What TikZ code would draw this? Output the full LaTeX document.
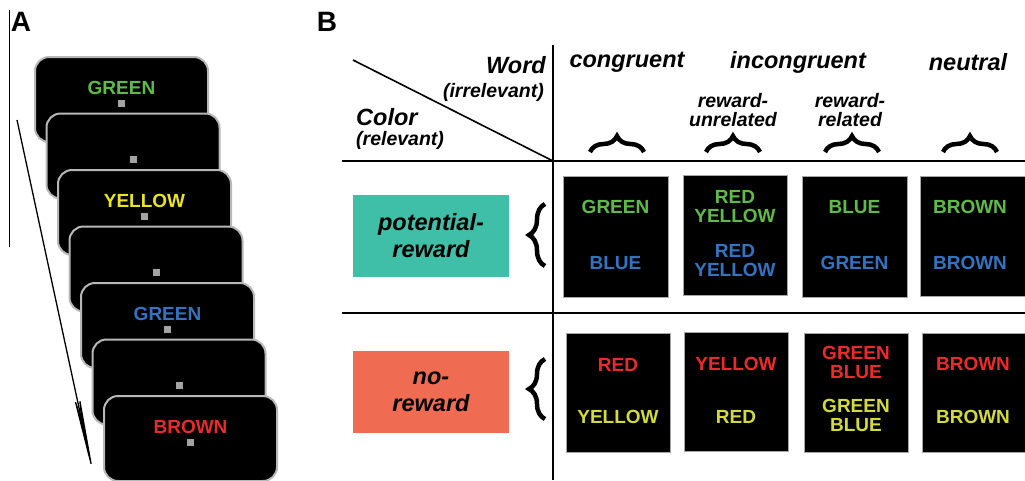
\documentclass[tikz,border=0pt]{standalone}
\usepackage{fontspec}
\setmainfont{Liberation Sans}
\usetikzlibrary{arrows.meta,decorations.pathreplacing}
\definecolor{wgreen}{HTML}{5DBB46}
\definecolor{wblue}{HTML}{3274C2}
\definecolor{wred}{HTML}{EC2A2A}
\definecolor{wyellowA}{HTML}{EDE31E}
\definecolor{wyellow}{HTML}{D3DA3A}
\definecolor{teal}{HTML}{3FBFA7}
\definecolor{salmon}{HTML}{EF6B52}
\definecolor{rim}{HTML}{B8B8B8}
\definecolor{fixgray}{HTML}{A3A3A3}
\begin{document}
\begin{tikzpicture}[x=1pt,y=-1pt,
  panel/.style={font=\bfseries\fontsize{28}{28}\selectfont, inner sep=0},
  card/.style={fill=black, draw=rim, line width=2, rounded corners=14,
               minimum width=173, minimum height=85, inner sep=0},
  stim/.style={font=\bfseries\fontsize{19}{19}\selectfont, inner sep=0, align=center},
  fix/.style={fill=fixgray, minimum size=7, inner sep=0},
  hdr/.style={font=\bfseries\itshape\fontsize{23.5}{24}\selectfont, inner sep=0},
  sub/.style={font=\bfseries\itshape\fontsize{19.5}{19.5}\selectfont, inner sep=0, align=center},
  lab/.style={font=\bfseries\itshape\fontsize{23.5}{27}\selectfont, align=center,
              minimum width=156, minimum height=82, inner sep=0},
  blk/.style={fill=black, draw=gray!70, line width=0.6, inner sep=0},
  rule/.style={line width=2},
  hbrace/.style={decorate, decoration={brace, amplitude=16}, line width=4.5},
  vbrace/.style={decorate, decoration={brace, amplitude=16}, line width=4.5}
]
\clip (0,0) rectangle (1025,480);

% ---------- panel A: trial sequence ----------
\node[panel] (la) at (21,22) {A};
\coordinate (va) at (9,10);
\coordinate (vb) at (9,247);
\draw[line width=1] (va) -- (vb);

\coordinate (ts) at (17,120);
\coordinate (te) at (95,482);
\draw[line width=1.3, -{Stealth[length=100, width=7]}] (ts) -- (te);

% cards, stacked from back to front
\foreach \i/\word/\col in {1/GREEN/wgreen, 2//black, 3/YELLOW/wyellowA, 4//black,
                           5/GREEN/wblue, 6//black, 7/BROWN/wred}{
  \pgfmathsetmacro{\cx}{35+11.5*(\i-1)+86.5}
  \pgfmathsetmacro{\ty}{57+56.5*(\i-1)}
  \node[card] (card\i) at (\cx,\ty+42.5) {};
  \node[stim, text=\col] (word\i) at (\cx,\ty+31) {\word};
  \node[fix] (fix\i) at (\cx,\ty+46) {};
}

% ---------- panel B: design table ----------
\node[panel] (lb) at (327,22) {B};

\coordinate (vt) at (553,45);
\coordinate (vbot) at (553,480);
\coordinate (h1l) at (342,161);
\coordinate (h1r) at (1025,161);
\coordinate (h2l) at (342,313);
\coordinate (h2r) at (1025,313);
\coordinate (dg) at (353,60);
\coordinate (dc) at (553,161);
\draw[rule] (vt) -- (vbot);
\draw[rule] (h1l) -- (h1r);
\draw[rule] (h2l) -- (h2r);
\draw[line width=1.6] (dg) -- (dc);

\node[hdr, anchor=east] (word) at (546,65) {Word};
\node[sub, anchor=east] (irr) at (544,92) {(irrelevant)};
\node[hdr, anchor=west] (color) at (356,117) {Color};
\node[sub, anchor=west] (rel) at (356,140) {(relevant)};

\node[hdr] (cong) at (627,62) {congruent};
\node[hdr] (incong) at (798,62) {incongruent};
\node[hdr] (neut) at (968,62) {neutral};
\node[sub] (unrel) at (733,110) {reward-\\unrelated};
\node[sub] (relat) at (850,110) {reward-\\related};

% column braces
\foreach \n/\x in {bc/617, bu/733, br/852, bn/970}{
  \coordinate (\n a) at (\x-27,152);
  \coordinate (\n b) at (\x+27,152);
  \draw[hbrace] (\n a) -- (\n b);
}

% row labels
\node[lab, fill=teal] (pot) at (431,236) {potential-\\reward};
\node[lab, fill=salmon] (nor) at (431,392) {no-\\reward};

\coordinate (r1a) at (545,266);
\coordinate (r1b) at (545,204);
\coordinate (r2a) at (545,419);
\coordinate (r2b) at (545,359);
\draw[vbrace] (r1a) -- (r1b);
\draw[vbrace] (r2a) -- (r2b);

% stimulus boxes, potential-reward row (green / blue ink)
\node[blk, minimum width=105, minimum height=121] (p1) at (615.5,236.5) {};
\node[blk, minimum width=104, minimum height=120] (p2) at (735,235) {};
\node[blk, minimum width=105, minimum height=121] (p3) at (854.5,236.5) {};
\node[blk, minimum width=106, minimum height=120] (p4) at (973,236) {};

\node[stim, text=wgreen] (p1a) at (615.5,207) {GREEN};
\node[stim, text=wblue]  (p1b) at (615.5,263) {BLUE};
\node[stim, text=wgreen] (p2a) at (735,206.5) {RED\\YELLOW};
\node[stim, text=wblue]  (p2b) at (735,260.5) {RED\\YELLOW};
\node[stim, text=wgreen] (p3a) at (854.5,207) {BLUE};
\node[stim, text=wblue]  (p3b) at (854.5,263) {GREEN};
\node[stim, text=wgreen] (p4a) at (970,207) {BROWN};
\node[stim, text=wblue]  (p4b) at (970,263) {BROWN};

% stimulus boxes, no-reward row (red / yellow ink)
\node[blk, minimum width=104, minimum height=119] (n1) at (618,392.5) {};
\node[blk, minimum width=104, minimum height=119] (n2) at (736,391.5) {};
\node[blk, minimum width=104, minimum height=119] (n3) at (856,392.5) {};
\node[blk, minimum width=106, minimum height=119] (n4) at (975,392.5) {};

\node[stim, text=wred]    (n1a) at (618,365) {RED};
\node[stim, text=wyellow] (n1b) at (618,417) {YELLOW};
\node[stim, text=wred]    (n2a) at (736,364) {YELLOW};
\node[stim, text=wyellow] (n2b) at (736,417) {RED};
\node[stim, text=wred]    (n3a) at (856,362.5) {GREEN\\BLUE};
\node[stim, text=wyellow] (n3b) at (856,415.5) {GREEN\\BLUE};
\node[stim, text=wred]    (n4a) at (973,364) {BROWN};
\node[stim, text=wyellow] (n4b) at (973,417) {BROWN};
\end{tikzpicture}
\end{document}
